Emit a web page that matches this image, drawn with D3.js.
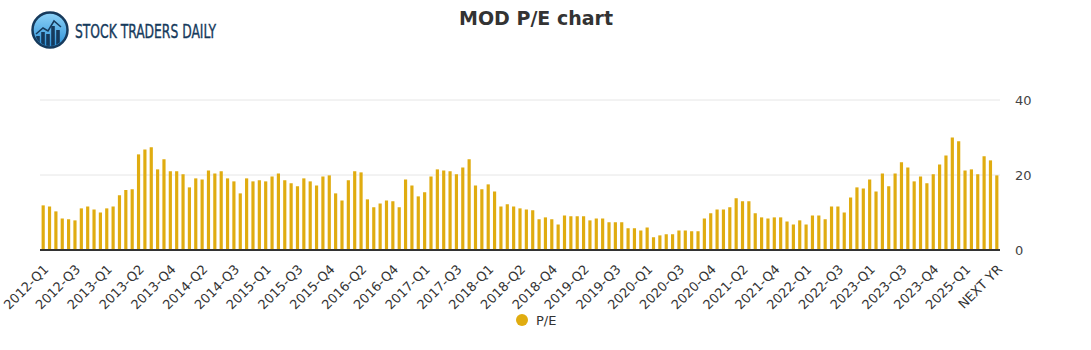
<!DOCTYPE html>
<html>
<head>
<meta charset="utf-8">
<script src="https://cdn.jsdelivr.net/npm/d3@7"></script>
<style>
  html, body { margin: 0; padding: 0; background: #fff; }
  svg { display: block; font-family: "DejaVu Sans", sans-serif; }
</style>
</head>
<body>
<div id="chart"></div>
<script>
// ---- Data ----
const seriesName = "P/E";
const tickLabels = ["2012-Q1","2012-Q3","2013-Q1","2013-Q2","2013-Q4","2014-Q2","2014-Q3","2015-Q1","2015-Q3","2015-Q4",
  "2016-Q2","2016-Q4","2017-Q1","2017-Q3","2018-Q1","2018-Q2","2018-Q4","2019-Q2","2019-Q3","2020-Q1",
  "2020-Q3","2020-Q4","2021-Q2","2021-Q4","2022-Q1","2022-Q3","2023-Q1","2023-Q3","2023-Q4","2025-Q1","NEXT YR"];
const peValues = [
  11.9,11.6,10.3,8.4,8.2,7.9,11.1,11.6,10.8,10.0,
  11.1,11.6,14.6,16.0,16.2,25.5,26.8,27.4,21.5,24.2,
  21.0,21.0,20.2,16.7,19.1,18.8,21.2,20.4,21.0,19.1,
  18.3,15.1,19.1,18.3,18.6,18.3,19.6,20.4,18.6,17.8,
  17.0,19.1,18.3,17.2,19.6,19.9,15.1,13.2,18.6,21.0,
  20.7,13.5,11.4,12.4,13.2,13.0,11.4,18.8,17.2,14.3,
  15.4,19.6,21.5,21.2,21.0,20.2,22.0,24.2,17.2,16.2,
  17.5,15.6,11.6,12.2,11.6,11.1,10.8,10.6,8.2,8.7,
  8.2,6.8,9.2,9.0,9.0,9.0,7.9,8.4,8.4,7.4,
  7.4,7.4,5.8,5.8,5.2,6.0,3.4,3.9,4.2,4.2,
  5.2,5.2,5.0,5.0,8.4,9.8,10.8,10.8,11.4,13.8,
  13.0,13.0,9.8,8.7,8.4,8.7,8.7,7.6,6.8,7.9,
  6.8,9.2,9.2,8.2,11.6,11.6,10.0,14.0,16.7,16.4,
  18.8,15.6,20.4,17.0,20.4,23.4,22.0,18.3,19.6,17.8,
  20.2,22.8,25.2,30.0,29.0,21.2,21.5,20.2,25.0,23.9,
  19.9
];
const yTicks = [0, 20, 40];
const labelEvery = 5;

// ---- Layout ----
const W = 1091, H = 350;
const plot = { left: 40, right: 1000, top: 100, bottom: 250 };
const barColor = "#E0AC10";

const svg = d3.select("#chart").append("svg").attr("width", W).attr("height", H);

const x = d3.scaleBand()
  .domain(d3.range(peValues.length))
  .range([plot.left, plot.right])
  .paddingInner(0.5)
  .paddingOuter(0.25);

const y = d3.scaleLinear().domain([0, 40]).range([plot.bottom, plot.top]);

// gridlines
svg.append("g")
  .selectAll("line")
  .data(yTicks.filter(d => d !== 0))
  .join("line")
  .attr("x1", plot.left).attr("x2", plot.right)
  .attr("y1", d => y(d)).attr("y2", d => y(d))
  .attr("stroke", "#e6e6e6").attr("stroke-width", 1);

// y axis on right
const yAxis = d3.axisRight(y).tickValues(yTicks).tickSize(0).tickPadding(15);
const gy = svg.append("g").attr("transform", `translate(${plot.right},0)`).call(yAxis);
gy.select(".domain").remove();
gy.selectAll("text").attr("fill", "#444").style("font-size", "13px").attr("font-family", "DejaVu Sans, sans-serif");

// bars
svg.append("g")
  .selectAll("rect")
  .data(peValues)
  .join("rect")
  .attr("x", (d, i) => x(i))
  .attr("width", x.bandwidth())
  .attr("y", d => y(d))
  .attr("height", d => y(0) - y(d))
  .attr("fill", barColor);

// x axis
const xAxis = d3.axisBottom(x)
  .tickSize(0)
  .tickFormat(i => (i % labelEvery === 0 ? tickLabels[i / labelEvery] : ""));
const gx = svg.append("g").attr("transform", `translate(0,${plot.bottom})`).call(xAxis);
gx.select(".domain").attr("stroke", "#333").attr("stroke-width", 2)
  .attr("d", `M${plot.left},0H${plot.right}`);
gx.selectAll("text")
  .attr("fill", "#333")
  .style("font-size", "13px")
  .attr("font-family", "DejaVu Sans, sans-serif")
  .attr("text-anchor", "end")
  .attr("x", 0).attr("y", 0)
  .attr("dx", "0px")
  .attr("dy", "0.35em")
  .attr("transform", "translate(3,17) rotate(-45)");

// title
svg.append("text")
  .attr("x", 536).attr("y", 25)
  .attr("text-anchor", "middle")
  .attr("fill", "#333")
  .style("font-size", "19px").style("font-weight", "bold")
  .attr("font-family", "DejaVu Sans, sans-serif")
  .text("MOD P/E chart");

// legend
svg.append("circle").attr("cx", 522).attr("cy", 320).attr("r", 6).attr("fill", barColor);
svg.append("text").attr("x", 536).attr("y", 325)
  .attr("fill", "#333").style("font-size", "13px")
  .attr("font-family", "DejaVu Sans, sans-serif")
  .text(seriesName);

// logo
const defs = svg.append("defs");
const grad = defs.append("linearGradient").attr("id", "lg").attr("x1", 0).attr("y1", 0).attr("x2", 0).attr("y2", 1);
grad.append("stop").attr("offset", "0%").attr("stop-color", "#8fd3f8");
grad.append("stop").attr("offset", "100%").attr("stop-color", "#2a8fd6");
defs.append("clipPath").attr("id", "lc").append("circle").attr("cx", 50).attr("cy", 30).attr("r", 16);
const logo = svg.append("g");
logo.append("circle").attr("cx", 50).attr("cy", 30).attr("r", 17.5).attr("fill", "url(#lg)")
  .attr("stroke", "#163a5c").attr("stroke-width", 2.5);
const lg = logo.append("g").attr("clip-path", "url(#lc)");
[[38,36],[43,32],[48,34],[53,26],[58,30]].forEach(([bx, by]) => {
  lg.append("rect").attr("x", bx - 1.8).attr("y", by).attr("width", 3.6).attr("height", 50 - by).attr("fill", "#163a5c");
});
lg.append("polyline").attr("points", "36,34 43,28 48,31 54,21 61,27")
  .attr("fill", "none").attr("stroke", "#163a5c").attr("stroke-width", 1.5);
logo.append("text")
  .attr("x", 75).attr("y", 38)
  .attr("fill", "#163a5c")
  .attr("stroke", "#163a5c").attr("stroke-width", 0.4)
  .attr("textLength", 141).attr("lengthAdjust", "spacingAndGlyphs")
  .style("font-size", "20px")
  .attr("font-family", "Liberation Sans Narrow, DejaVu Sans Condensed, sans-serif")
  .text("STOCK TRADERS DAILY");
</script>
</body>
</html>
